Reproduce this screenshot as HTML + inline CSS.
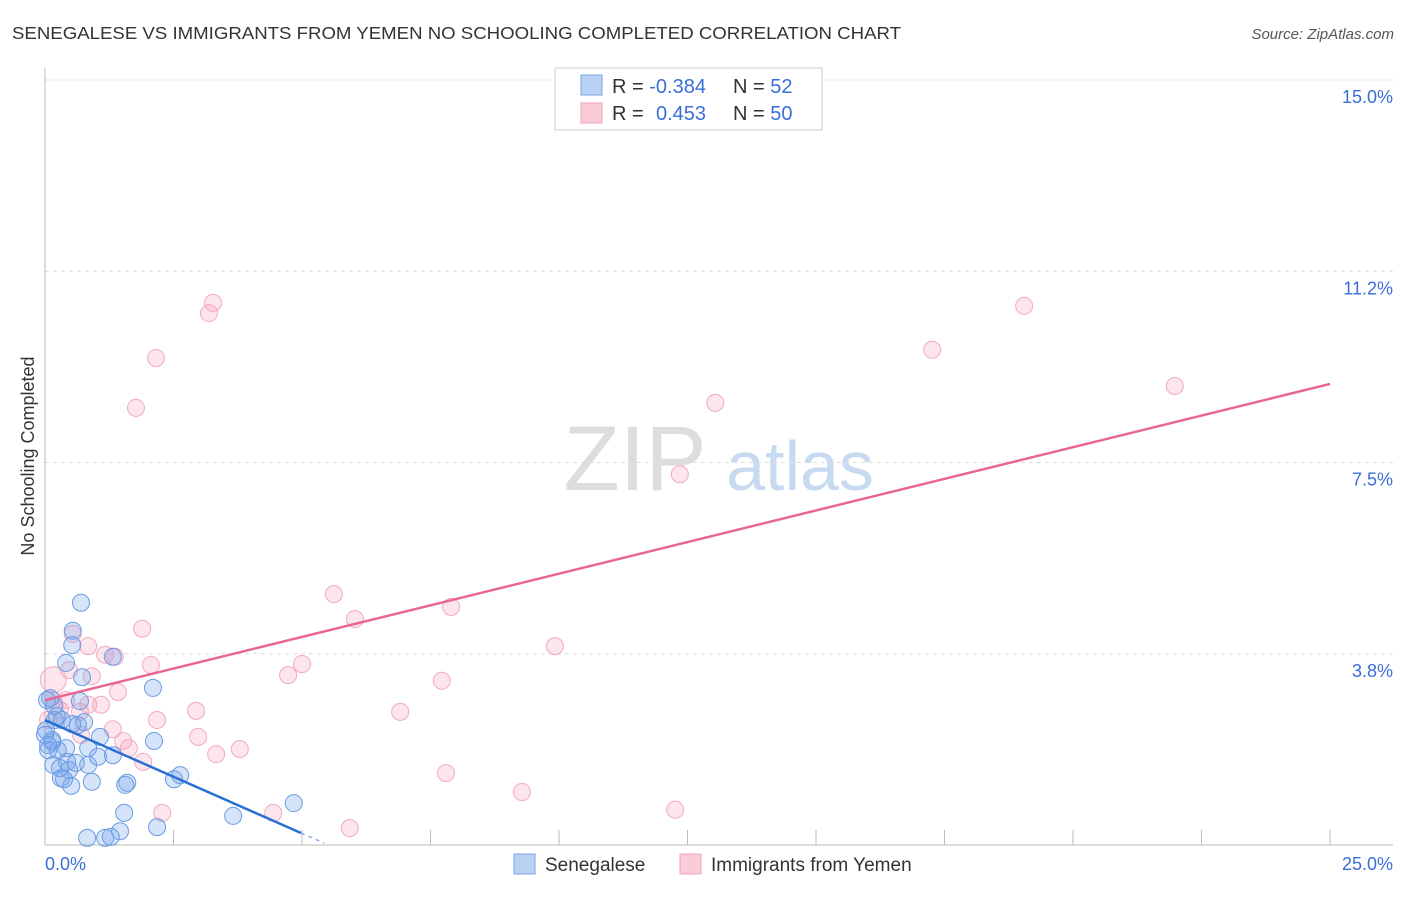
<!DOCTYPE html>
<html><head><meta charset="utf-8"><style>
body{margin:0;background:#fff;font-family:"Liberation Sans",sans-serif;}
svg text{font-family:"Liberation Sans",sans-serif;}
</style></head><body>
<svg id="chart" width="1406" height="892" viewBox="0 0 1406 892">
<text x="12" y="39" font-size="17.5" fill="#333" textLength="889" lengthAdjust="spacingAndGlyphs">SENEGALESE VS IMMIGRANTS FROM YEMEN NO SCHOOLING COMPLETED CORRELATION CHART</text>
<text x="1394" y="39" font-size="15" fill="#555" font-style="italic" text-anchor="end">Source: ZipAtlas.com</text>
<text x="34" y="456" font-size="18" fill="#333" text-anchor="middle" transform="rotate(-90 34 456)">No Schooling Completed</text>
<g>
<text x="635" y="490" font-size="92" fill="#ddd" font-family="Liberation Serif" text-anchor="middle">ZIP</text>
<text x="800" y="490" font-size="70" fill="#c8daf2" text-anchor="middle">atlas</text>
</g>
<g id="grid"></g><g id="axes"></g><g id="marks"></g>
<g>
<rect x="555" y="68" width="267" height="62" fill="#fff" stroke="#ccc"/>
<rect x="581" y="75" width="21" height="20" fill="#b9d1f3" stroke="#7aa5e6"/>
<rect x="581" y="103" width="21" height="20" fill="#fbcbd8" stroke="#f2a3bb"/>
<text x="612" y="93" font-size="20" fill="#333">R = <tspan fill="#3a6fd8">-0.384</tspan><tspan x="733">N = </tspan><tspan fill="#3a6fd8">52</tspan></text>
<text x="612" y="120" font-size="20" fill="#333">R = <tspan fill="#3a6fd8" x="656">0.453</tspan><tspan x="733">N = </tspan><tspan fill="#3a6fd8">50</tspan></text>
</g>
<g>
<rect x="514" y="854" width="21" height="20" fill="#b9d1f3" stroke="#7aa5e6"/>
<text x="545" y="871" font-size="19" fill="#333">Senegalese</text>
<rect x="680" y="854" width="21" height="20" fill="#fbcbd8" stroke="#f2a3bb"/>
<text x="711" y="871" font-size="19" fill="#333">Immigrants from Yemen</text>
</g>
</svg>
<script>
const blueX=[0.70,0.54,0.53,0.41,1.32,0.72,2.10,0.10,0.68,0.23,0.33,0.64,0.76,0.02,1.07,2.12,0.14,0.41,0.25,0.84,1.32,1.03,0.43,0.60,0.16,0.84,0.47,0.31,0.91,0.51,1.60,2.51,2.63,1.54,4.84,3.66,2.18,1.46,0.82,1.17,1.28,0.06,0.04,0.14,0.19,0.00,0.18,0.29,1.56,0.37,0.06,0.53];
const blueY=[4.75,4.20,3.92,3.57,3.69,3.29,3.08,2.88,2.82,2.53,2.45,2.35,2.41,2.25,2.12,2.04,2.02,1.90,1.86,1.90,1.76,1.73,1.63,1.61,1.57,1.57,1.47,1.31,1.24,1.16,1.22,1.29,1.37,0.63,0.82,0.57,0.35,0.27,0.14,0.14,0.16,1.86,2.84,2.06,2.45,2.16,2.73,1.51,1.18,1.29,1.96,2.37];
const pinkX=[3.27,3.19,2.16,1.77,19.05,17.26,21.98,13.04,12.35,5.62,7.90,6.03,1.89,0.54,0.84,1.17,1.36,2.06,5.00,4.73,0.91,0.47,7.72,9.92,1.42,0.16,0.16,0.84,1.09,2.94,2.18,6.91,1.32,1.52,2.98,1.63,3.79,3.33,1.91,7.80,9.28,12.26,4.44,2.28,5.93,0.29,0.68,0.41,0.70,0.06];
const pinkY=[10.63,10.43,9.55,8.57,10.57,9.71,9.00,8.67,7.27,4.92,4.67,4.43,4.24,4.14,3.90,3.73,3.69,3.53,3.55,3.33,3.31,3.43,3.22,3.90,3.00,3.24,2.84,2.75,2.75,2.63,2.45,2.61,2.27,2.04,2.12,1.90,1.88,1.78,1.63,1.41,1.04,0.69,0.63,0.63,0.33,2.65,2.61,2.84,2.16,2.45];
const blueTrend=[2.45,0.235];const blueTrendX=[0,4.98];
const pinkTrend=[2.84,9.04];const pinkTrendX=[0,25];
const yTicks=[3.8,7.5,11.2,15.0];const yTickVals=[3.75,7.5,11.25,15];
const NS='http://www.w3.org/2000/svg';
const sx=v=>45+v/25*1285, sy=v=>845-v/15*765;
function mk(parent,tag,attrs){const e=document.createElementNS(NS,tag);for(const k in attrs)e.setAttribute(k,attrs[k]);document.getElementById(parent).appendChild(e);return e;}
yTickVals.forEach((v,i)=>{
 const g=mk('grid','line',{x1:45,x2:1393,y1:sy(v),y2:sy(v),stroke:'#ddd','stroke-dasharray':'4 4'});
 
 
 const t=mk('axes','text',{x:1393,y:sy(v)+23,'font-size':18,fill:'#3a6fd8','text-anchor':'end'});t.textContent=yTicks[i].toFixed(1)+'%';
 
 
});
let a=mk('axes','line',{x1:45,x2:45,y1:68,y2:845,stroke:'#bbb'});


a=mk('axes','line',{x1:45,x2:1393,y1:845,y2:845,stroke:'#bbb'});


for(let i=1;i<=10;i++){const t=mk('axes','line',{x1:sx(i*2.5),x2:sx(i*2.5),y1:830,y2:845,stroke:'#bbb'});
 
 }
[[0,'0.0%','start',45],[25,'25.0%','end',1393]].forEach(d=>{const t=mk('axes','text',{x:d[3],y:870,'font-size':18,fill:'#3a6fd8','text-anchor':d[2]});t.textContent=d[1];
 
 });
pinkX.forEach((x,i)=>{const c=mk('marks','circle',{cx:sx(x),cy:sy(pinkY[i]),r:i==25?13:8.5,fill:'rgba(246,160,188,0.28)',stroke:'#f4a9c0','stroke-width':1});
 
 });
blueX.forEach((x,i)=>{const c=mk('marks','circle',{cx:sx(x),cy:sy(blueY[i]),r:8.5,fill:'rgba(120,165,235,0.3)',stroke:'#6b9be3','stroke-width':1});
 
 });
let l=mk('marks','line',{x1:sx(pinkTrendX[0]),y1:sy(pinkTrend[0]),x2:sx(pinkTrendX[1]),y2:sy(pinkTrend[1]),stroke:'#e8668f','stroke-width':2.5});


l=mk('marks','line',{x1:sx(blueTrendX[0]),y1:sy(blueTrend[0]),x2:sx(blueTrendX[1]),y2:sy(blueTrend[1]),stroke:'#2a6fd6','stroke-width':2.5});


const slope=(blueTrend[1]-blueTrend[0])/(blueTrendX[1]-blueTrendX[0]);
l=mk('marks','line',{x1:sx(blueTrendX[1]),y1:sy(blueTrend[1]),x2:sx(blueTrendX[1]+0.45),y2:sy(blueTrend[1]+slope*0.45),stroke:'#8ab0e8','stroke-width':1.5,'stroke-dasharray':'4 4'});


</script>
</body></html>
